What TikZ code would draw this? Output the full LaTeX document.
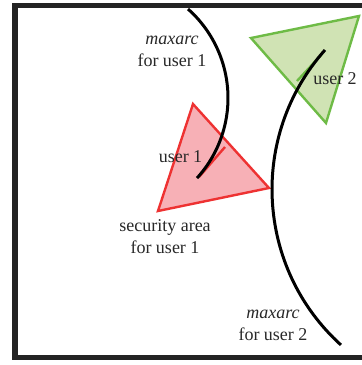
\documentclass[tikz,border=0pt]{standalone}
\usepackage{fontspec}
\setmainfont{Liberation Serif}
\definecolor{areared}{RGB}{238,50,50}
\definecolor{arearedfill}{RGB}{247,176,182}
\definecolor{areagreen}{RGB}{110,187,70}
\definecolor{areagreenfill}{RGB}{208,227,180}
\definecolor{framegray}{RGB}{35,35,35}
\definecolor{labelgray}{RGB}{40,40,40}

\begin{document}
\begin{tikzpicture}[x=1pt,y=-1pt,
    lbl/.style={font=\fontsize{18}{22}\selectfont, text=labelgray, align=center, inner sep=0pt, anchor=base},
    area/.style={line width=2.4pt},
    heading/.style={line width=2.4pt},
    maxarcline/.style={line width=3pt}]
    \useasboundingbox (0,0) rectangle (362,365);
    \clip (0,0) rectangle (362,365);
    % frame
    \draw[framegray, line width=5.5pt] (15,5.5) rectangle (380,357.5);
    % security areas
    \filldraw[area, draw=areared, fill=arearedfill] (193,104) -- (269,188) -- (158,211) -- cycle;
    \filldraw[area, draw=areagreen, fill=areagreenfill] (251,38) -- (359,16) -- (326,123) -- cycle;
    % headings
    \draw[heading, areared] (199,177) -- (225,147);
    \draw[heading, areagreen] (297,81) -- (322,54);
    % maxarcs
    \coordinate (c1) at (109,98);
    \coordinate (c2) at (482,189.4);
    \draw[maxarcline] (c1) ++(-48.4:119) arc[start angle=-48.4, end angle=42.3, radius=119];
    \draw[maxarcline] (c2) ++(-138.4:210) arc[start angle=-138.4, end angle=-227.8, radius=210];
    % labels (base = last line)
    \node[lbl] (maxarc1) at (172,66.7) {\textit{maxarc}\\for user 1};
    \node[lbl] (user1) at (180.5,162) {user 1};
    \node[lbl] (area1) at (165,253) {security area\\for user 1};
    \node[lbl] (user2) at (335,84) {user 2};
    \node[lbl] (maxarc2) at (273,340.7) {\textit{maxarc}\\for user 2};
\end{tikzpicture}
\end{document}
